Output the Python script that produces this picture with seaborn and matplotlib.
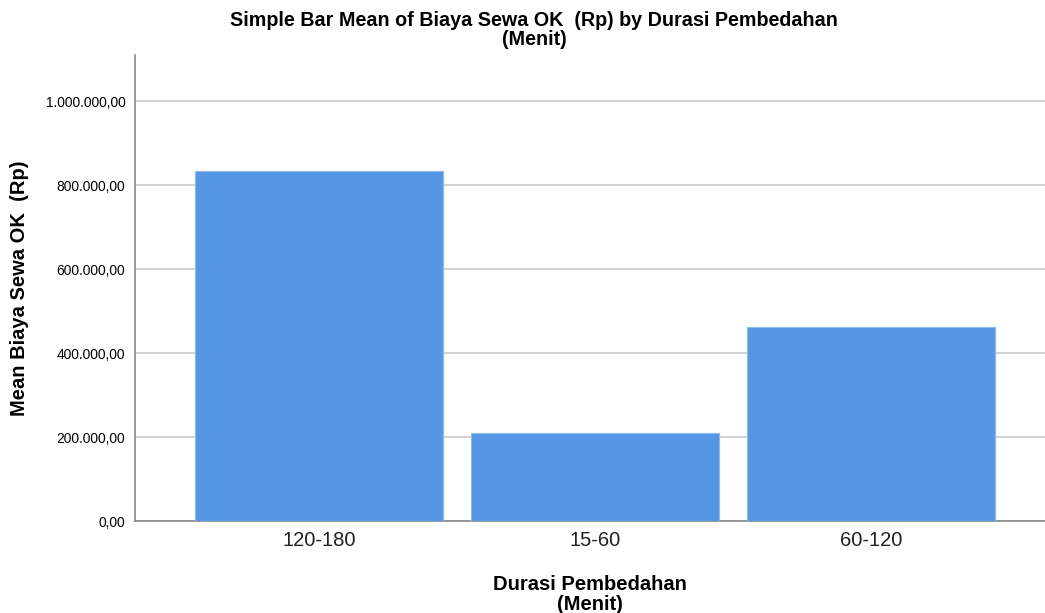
import matplotlib
matplotlib.use('Agg')
import pandas as pd
import seaborn as sns
import matplotlib.pyplot as plt
from matplotlib.ticker import FuncFormatter

# Mean rental cost per surgery duration group
durasi = ['120-180', '15-60', '60-120']
biaya = [833000, 209700, 462000]

data = pd.DataFrame({'durasi': durasi, 'biaya': biaya})

sns.set_style('white')
plt.rcParams['font.family'] = ['Liberation Sans', 'DejaVu Sans']
plt.rcParams['text.color'] = 'black'
plt.rcParams['axes.labelcolor'] = 'black'

fig = plt.figure(figsize=(10.45, 6.13), dpi=100)
ax = fig.add_axes([0.1292, 0.150, 0.8708, 0.760])

sns.barplot(data=data, x='durasi', y='biaya', color='#5597e4', saturation=1,
            width=0.9, edgecolor='#8fbaf0', linewidth=0.8, ax=ax, zorder=3)

ax.set_ylim(0, 1110000)
ax.set_xlim(-0.667, 2.63)
ax.set_yticks([0, 200000, 400000, 600000, 800000, 1000000])


def fmt(v, pos):
    s = f'{v:,.2f}'
    return s.replace(',', 'X').replace('.', ',').replace('X', '.')


ax.yaxis.set_major_formatter(FuncFormatter(fmt))
ax.grid(axis='y', color='#cccccc', linewidth=1.2, zorder=0)
ax.set_axisbelow(True)

for side in ['top', 'right']:
    ax.spines[side].set_visible(False)
for side in ['left', 'bottom']:
    ax.spines[side].set_color('#888888')
    ax.spines[side].set_linewidth(1.2)

ax.tick_params(axis='y', labelsize=9.9, length=0, pad=7, colors='black')
ax.tick_params(axis='x', labelsize=14.5, length=0, pad=7, colors='#222222')
ax.set_xlabel('Durasi Pembedahan\n(Menit)', fontsize=14.5, fontweight='bold',
              labelpad=18, linespacing=1.05)
ax.set_ylabel('Mean Biaya Sewa OK  (Rp)', fontsize=14.5, fontweight='bold', labelpad=12)

fig.text(0.511, 0.92, 'Simple Bar Mean of Biaya Sewa OK  (Rp) by Durasi Pembedahan\n(Menit)',
         ha='center', va='bottom', fontsize=14.2, fontweight='bold', linespacing=1.0)

plt.savefig('out.png', dpi=100)
